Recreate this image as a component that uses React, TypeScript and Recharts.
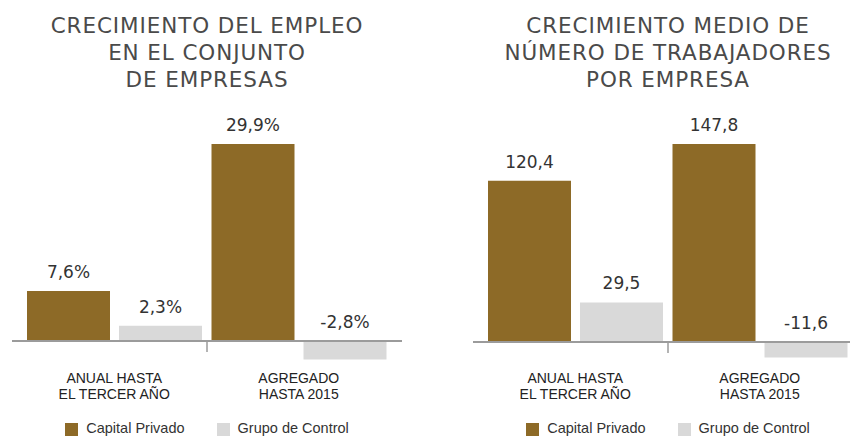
import { Bar, BarChart, LabelList, ReferenceLine, XAxis, YAxis } from "recharts"

const categories = ["ANUAL HASTA\nEL TERCER AÑO", "AGREGADO\nHASTA 2015"]
const seriesNames = ["Capital Privado", "Grupo de Control"]
const seriesColors = ["#8d6a27", "#d9d9d9"]

const empleoTitle = ["CRECIMIENTO DEL EMPLEO", "EN EL CONJUNTO", "DE EMPRESAS"]
const empleoPrivado = [7.6, 29.9]
const empleoControl = [2.3, -2.8]

const trabajadoresTitle = ["CRECIMIENTO MEDIO DE", "NÚMERO DE TRABAJADORES", "POR EMPRESA"]
const trabajadoresPrivado = [120.4, 147.8]
const trabajadoresControl = [29.5, -11.6]

const fmt = (v: number) => v.toFixed(1).replace(".", ",")

const CategoryTick = ({ x, y, payload, first }: any) => {
  const lines = String(payload.value).split("\n")
  return (
    <text
      x={x}
      y={y}
      textAnchor="middle"
      fontFamily="'Liberation Sans', Arial, sans-serif"
      fontSize={14}
      fill="#222"
    >
      {lines.map((l, i) => (
        <tspan key={i} x={x} dy={i === 0 ? first : 16}>
          {l}
        </tspan>
      ))}
    </text>
  )
}

// línea del eje en el cero, con la marquita central entre categorías
const AxisShape = ({ x1, x2, y1 }: any) => {
  const mid = (x1 + x2) / 2
  return (
    <g>
      <line x1={x1} x2={x2} y1={y1} y2={y1} stroke="#9b9b9b" strokeWidth={2} />
      <line x1={mid} x2={mid} y1={y1} y2={y1 + 11} stroke="#9b9b9b" strokeWidth={1.5} />
    </g>
  )
}

const valueLabel = (suffix: string) => (props: any) => {
  const { x, y, width, height, value } = props
  const top = Math.min(y, y + height)
  return (
    <text
      x={x + width / 2}
      y={top - 13}
      textAnchor="middle"
      fontFamily="'DejaVu Sans', sans-serif"
      fontSize={17}
      fill="#333"
    >
      {fmt(value) + suffix}
    </text>
  )
}

interface PanelProps {
  title: string[]
  privado: number[]
  control: number[]
  domain: [number, number]
  zeroY: number
  pxPerUnit: number
  suffix: string
  left: number
  width: number
  marginLeft: number
  center: number
  tickDy: number
}

function Panel(p: PanelProps) {
  const data = categories.map((c, i) => ({ name: c, privado: p.privado[i], control: p.control[i] }))
  const top = p.zeroY - p.domain[1] * p.pxPerUnit
  const bottom = p.zeroY - p.domain[0] * p.pxPerUnit
  const axisH = 60
  return (
    <>
      <div
        style={{
          position: "absolute",
          left: p.center - 220,
          top: 12,
          width: 440,
          textAlign: "center",
          fontFamily: "'DejaVu Sans', sans-serif",
          fontWeight: 400,
          fontSize: 21.5,
          letterSpacing: 0.9,
          lineHeight: "27px",
          color: "#4a4a4a",
        }}
      >
        {p.title.map((t) => (
          <div key={t}>{t}</div>
        ))}
      </div>
      <div style={{ position: "absolute", left: p.left, top: 0 }}>
        <BarChart
          width={p.width}
          height={436}
          data={data}
          margin={{ top, left: p.marginLeft, right: p.width - p.marginLeft - 390, bottom: 436 - bottom - axisH }}
          barSize={83}
          barGap={9}
        >
          <YAxis hide domain={p.domain} allowDataOverflow />
          <XAxis
            dataKey="name"
            height={axisH}
            axisLine={false}
            tickLine={false}
            tickSize={0}
            tickMargin={0}
            padding={{ left: 10, right: 11 }}
            interval={0}
            tick={(t: any) => <CategoryTick {...t} first={p.tickDy} />}
          />
          <Bar dataKey="privado" fill={seriesColors[0]} isAnimationActive={false}>
            <LabelList dataKey="privado" content={valueLabel(p.suffix)} />
          </Bar>
          <Bar dataKey="control" fill={seriesColors[1]} isAnimationActive={false}>
            <LabelList dataKey="control" content={valueLabel(p.suffix)} />
          </Bar>
          <ReferenceLine y={0} shape={AxisShape} ifOverflow="visible" />
        </BarChart>
      </div>
      <div
        style={{
          position: "absolute",
          left: p.center - 200,
          top: 420,
          width: 400,
          display: "flex",
          justifyContent: "center",
          gap: 32,
          fontFamily: "'Liberation Sans', Arial, sans-serif",
          fontSize: 14.5,
          color: "#333",
        }}
      >
        {seriesNames.map((n, i) => (
          <div key={n} style={{ display: "flex", alignItems: "flex-start" }}>
            <span
              style={{ width: 13, height: 13, marginTop: 3, marginRight: 8, background: seriesColors[i], display: "inline-block" }}
            />
            <span>{n}</span>
          </div>
        ))}
      </div>
    </>
  )
}

export default function App() {
  return (
    <div
      style={{
        position: "absolute",
        left: 0,
        top: 0,
        width: 850,
        height: 436,
        overflow: "hidden",
        background: "#fff",
      }}
    >
      <Panel
        title={empleoTitle}
        privado={empleoPrivado}
        control={empleoControl}
        domain={[-3, 30]}
        zeroY={341}
        pxPerUnit={197 / 29.9}
        suffix="%"
        left={0}
        width={425}
        marginLeft={12}
        center={207}
        tickDy={22}
      />
      <Panel
        title={trabajadoresTitle}
        privado={trabajadoresPrivado}
        control={trabajadoresControl}
        domain={[-15, 150]}
        zeroY={342}
        pxPerUnit={198 / 147.8}
        suffix=""
        left={425}
        width={450}
        marginLeft={48}
        center={668}
        tickDy={21}
      />
    </div>
  )
}
